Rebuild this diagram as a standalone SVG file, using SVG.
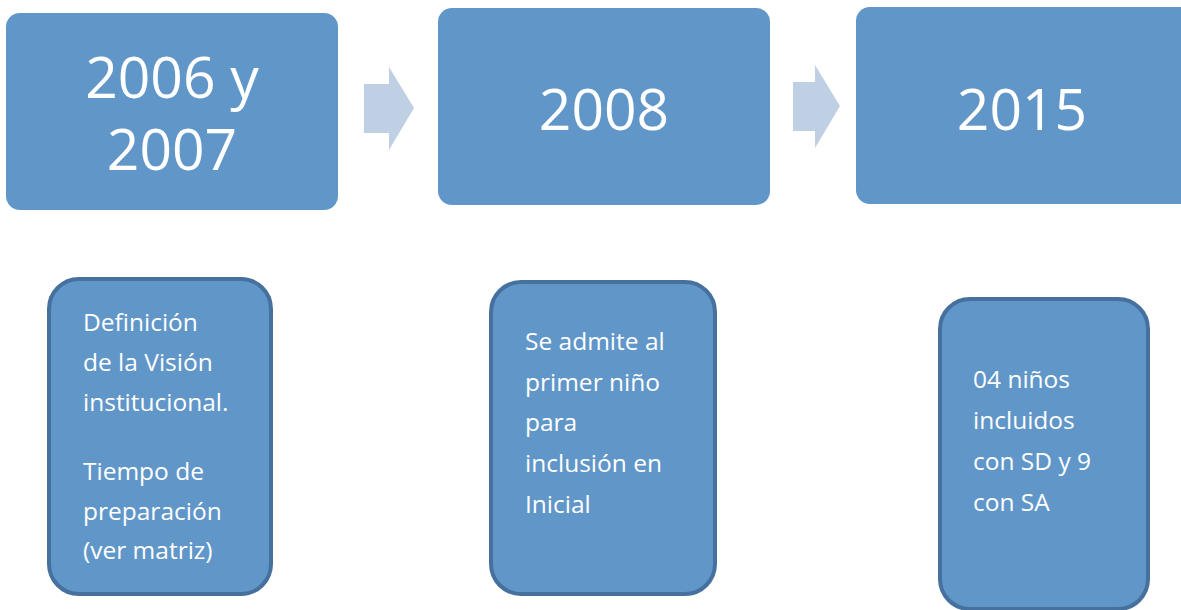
<svg xmlns="http://www.w3.org/2000/svg" width="1181" height="610" viewBox="0 0 1181 610">
<style>
.top{fill:#6096c8;}
.bot{fill:#6096c8;stroke:#46709e;stroke-width:4;}
.arr{fill:#c0d0e4;}
.big{font-family:"Open Sans",sans-serif;font-size:57px;fill:#fff;text-anchor:middle;}
.sm{font-family:"Open Sans",sans-serif;font-size:24.5px;fill:#fff;}
</style>
<rect width="1181" height="610" fill="#fff"/>
<g id="y2006">
<rect class="top" x="6" y="13" width="332" height="197" rx="14"/>
<text class="big" x="172" y="98">2006 y</text>
<text class="big" x="172" y="170">2007</text>
</g>
<g id="y2008">
<rect class="top" x="438" y="8" width="332" height="197" rx="14"/>
<text class="big" x="604" y="130">2008</text>
</g>
<g id="y2015">
<rect class="top" x="856" y="7" width="340" height="197" rx="14"/>
<text class="big" x="1022" y="130">2015</text>
</g>
<g id="connectors">
<polygon class="arr" points="364,84 389,84 389,67 414,108 389,150 389,133 364,133"/>
<polygon class="arr" points="793,82 815,82 815,65 840,106 815,148 815,131 793,131"/>
</g>
<g id="d2006">
<rect class="bot" x="49" y="279" width="222" height="315" rx="30"/>
<text class="sm" x="83" y="331">Definición</text>
<text class="sm" x="83" y="371">de la Visión</text>
<text class="sm" x="83" y="411">institucional.</text>
<text class="sm" x="83" y="480">Tiempo de</text>
<text class="sm" x="83" y="520">preparación</text>
<text class="sm" x="83" y="559">(ver matriz)</text>
</g>
<g id="d2008">
<rect class="bot" x="491" y="282" width="224" height="312" rx="30"/>
<text class="sm" x="525" y="350">Se admite al</text>
<text class="sm" x="525" y="391">primer niño</text>
<text class="sm" x="525" y="431">para</text>
<text class="sm" x="525" y="472">inclusión en</text>
<text class="sm" x="525" y="513">Inicial</text>
</g>
<g id="d2015">
<rect class="bot" x="940" y="299" width="208" height="310" rx="30"/>
<text class="sm" x="973" y="388">04 niños</text>
<text class="sm" x="973" y="429">incluidos</text>
<text class="sm" x="973" y="470">con SD y 9</text>
<text class="sm" x="973" y="511">con SA</text>
</g>
</svg>
